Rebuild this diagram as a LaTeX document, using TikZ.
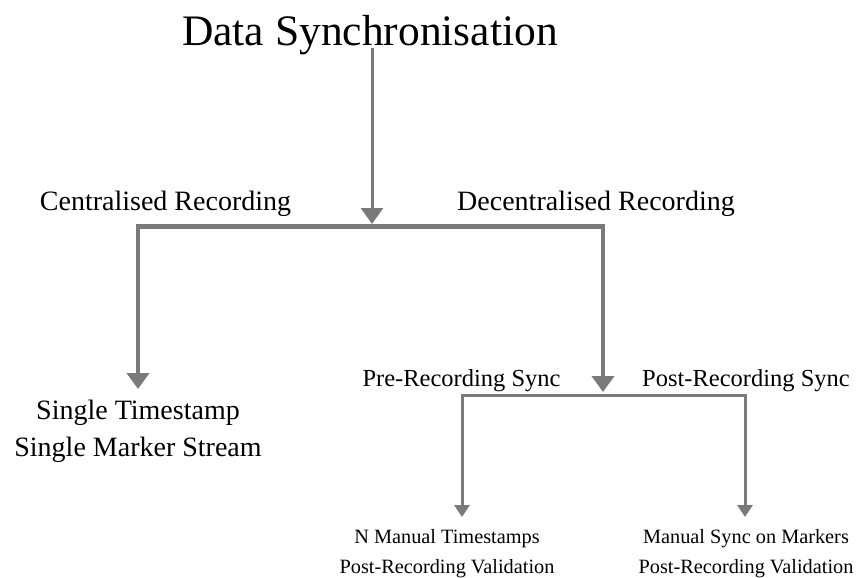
\documentclass[tikz,border=0pt]{standalone}
\usepackage{fontspec}
\setmainfont{Liberation Serif}
\usetikzlibrary{arrows.meta}
\definecolor{linegray}{HTML}{7A7A7A}
\begin{document}
\begin{tikzpicture}[x=1pt,y=-1pt,
  txt/.style={inner sep=0pt, align=center},
  big/.style={txt, font=\fontsize{28}{37}\selectfont},
  mid/.style={txt, font=\fontsize{24.5}{30}\selectfont},
  small/.style={txt, font=\fontsize{20.3}{30}\selectfont},
  conn/.style={draw=linegray, line cap=butt, line join=miter},
  bigarrow/.style={conn, -{Triangle[width=22pt,length=16pt]}},
  smallarrow/.style={conn, -{Triangle[width=15pt,length=12pt]}}]
\useasboundingbox (0,0) rectangle (867,578);

% texts
\node[txt, font=\fontsize{43.5}{50}\selectfont] (title) at (370,35) {Data Synchronisation};
\node[big] (cent) at (165.5,204) {Centralised Recording};
\node[big] (decent) at (596,204) {Decentralised Recording};
\node[big] (single) at (138,431) {Single Timestamp\\Single Marker Stream};
\node[mid] (pre) at (461.5,381) {Pre-Recording Sync};
\node[mid] (post) at (746,381) {Post-Recording Sync};
\node[small] (nman) at (447,554) {N Manual Timestamps\\Post-Recording Validation};
\node[small] (msync) at (746,554) {Manual Sync on Markers\\Post-Recording Validation};

% coordinates
\coordinate (stemtop) at (372,48);
\coordinate (j1) at (372,224);
\coordinate (bar1) at (372,226.5);
\coordinate (t1l) at (138,389);
\coordinate (t1r) at (603,392);
\coordinate (bar2) at (603,395.5);
\coordinate (t2l) at (462,517);
\coordinate (t2r) at (745,517);

% first level
\draw[bigarrow, line width=3pt] (stemtop) -- (j1);
\draw[bigarrow, line width=4.5pt] (bar1) -| (t1l);
\draw[bigarrow, line width=4.5pt] (bar1) -| (t1r);

% second level
\draw[smallarrow, line width=3pt] (bar2) -| (t2l);
\draw[smallarrow, line width=3pt] (bar2) -| (t2r);
\end{tikzpicture}
\end{document}
